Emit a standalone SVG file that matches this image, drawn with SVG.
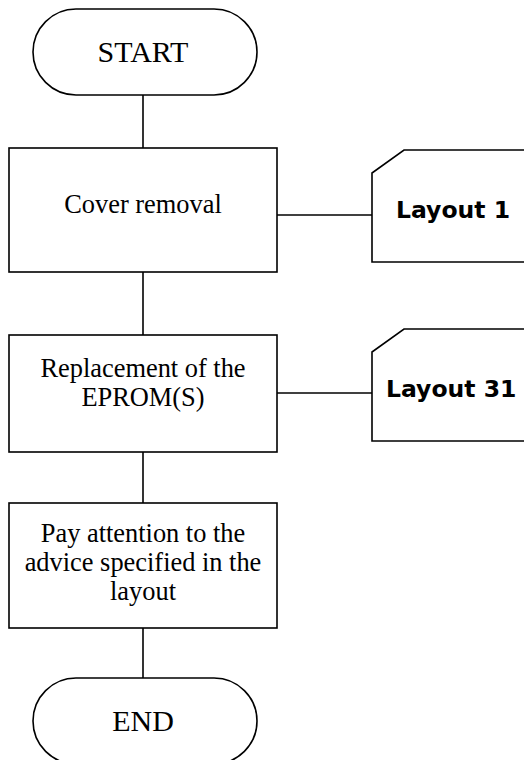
<svg xmlns="http://www.w3.org/2000/svg" width="524" height="760" viewBox="0 0 524 760">
<style>
.s{fill:#fff;stroke:#000;stroke-width:1.6}
.c{stroke:#000;stroke-width:1.6;fill:none}
.t{font-family:"Liberation Serif","Times New Roman",serif;font-size:26.4px;text-anchor:middle;fill:#000}
.tt{font-family:"Liberation Serif","Times New Roman",serif;font-size:30px;text-anchor:middle;fill:#000}
.l{font-family:"DejaVu Sans",Verdana,sans-serif;font-weight:bold;font-size:23.5px;fill:#000}
</style>
<rect width="524" height="760" fill="#fff"/>
<g id="connectors">
<line class="c" x1="143" y1="95" x2="143" y2="148"/>
<line class="c" x1="143" y1="272" x2="143" y2="335"/>
<line class="c" x1="143" y1="452" x2="143" y2="503"/>
<line class="c" x1="143" y1="628" x2="143" y2="678"/>
<line class="c" x1="277" y1="215" x2="372" y2="215"/>
<line class="c" x1="277" y1="393" x2="372" y2="393"/>
</g>
<g id="start">
<rect class="s" x="33" y="9" width="224" height="86" rx="43" ry="43"/>
<text class="tt" x="143" y="62">START</text>
</g>
<g id="cover">
<rect class="s" x="9" y="148" width="268" height="124"/>
<text class="t" x="143" y="213">Cover removal</text>
</g>
<g id="layout1">
<path class="s" d="M372,262 L372,173 L404,150 L530,150 L530,262 Z"/>
<text class="l" x="396" y="218">Layout 1</text>
</g>
<g id="replace">
<rect class="s" x="9" y="335" width="268" height="117"/>
<text class="t" x="143" y="377">Replacement of the</text>
<text class="t" x="143" y="406">EPROM(S)</text>
</g>
<g id="layout31">
<path class="s" d="M372,441 L372,352 L404,329 L530,329 L530,441 Z"/>
<text class="l" x="386" y="397">Layout 31</text>
</g>
<g id="advice">
<rect class="s" x="9" y="503" width="268" height="125"/>
<text class="t" x="143" y="542">Pay attention to the</text>
<text class="t" x="143" y="571">advice specified in the</text>
<text class="t" x="143" y="600">layout</text>
</g>
<g id="end">
<rect class="s" x="33" y="678" width="224" height="86" rx="43" ry="43"/>
<text class="tt" x="143" y="731">END</text>
</g>
</svg>
